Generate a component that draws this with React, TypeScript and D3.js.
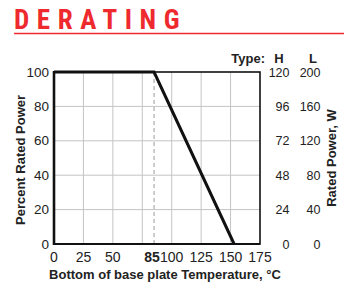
import React, { useEffect, useRef } from "react";
import * as d3 from "d3";

// Derating curve: percent rated power vs base plate temperature
const TEMPS = [0, 85, 153];
const PERCENT = [100, 100, 0];

const X_TICKS = [0, 25, 50, 85, 100, 125, 150, 175];
const X_GRID = [25, 50, 75, 100, 125, 150];
const Y_TICKS = [0, 20, 40, 60, 80, 100];
const WATTS_H = [0, 24, 48, 72, 96, 120];
const WATTS_L = [0, 40, 80, 120, 160, 200];

const FONT = "'Liberation Sans', Arial, sans-serif";

const App = () => {
    const svgRef = useRef<SVGSVGElement>(null);

    useEffect(() => {
        if (!svgRef.current) return;
        const svg = d3.select(svgRef.current);
        svg.selectAll("*").remove();

        const x = d3.scaleLinear().domain([0, 175]).range([54, 260]);
        const y = d3.scaleLinear().domain([0, 100]).range([244, 72]);

        // ── Title ─────────────────────────────────────────────
        svg.append("text")
            .attr("x", 14).attr("y", 29)
            .attr("font-family", "'Liberation Sans Narrow', 'Roboto Condensed', sans-serif")
            .attr("font-weight", "bold")
            .attr("font-size", "27px")
            .attr("letter-spacing", "7.6px")
            .attr("fill", "#ee2a2f")
            .text("DERATING");
        svg.append("line")
            .attr("x1", 14).attr("x2", 344)
            .attr("y1", 33.5).attr("y2", 33.5)
            .attr("stroke", "#ee2a2f").attr("stroke-width", 1.5);

        // ── Grid ──────────────────────────────────────────────
        const g = svg.append("g");
        X_GRID.forEach(v => {
            g.append("line")
                .attr("x1", x(v)).attr("x2", x(v))
                .attr("y1", y(0)).attr("y2", y(100))
                .attr("stroke", "#c4c4c4").attr("stroke-width", 1);
        });
        Y_TICKS.slice(1, -1).forEach(v => {
            g.append("line")
                .attr("x1", x(0)).attr("x2", x(175))
                .attr("y1", y(v)).attr("y2", y(v))
                .attr("stroke", "#c4c4c4").attr("stroke-width", 1);
        });

        // dashed marker at the knee
        g.append("line")
            .attr("x1", x(TEMPS[1])).attr("x2", x(TEMPS[1]))
            .attr("y1", y(0)).attr("y2", y(100))
            .attr("stroke", "#999").attr("stroke-width", 1)
            .attr("stroke-dasharray", "4,3");

        // frame
        g.append("rect")
            .attr("x", x(0)).attr("y", y(100))
            .attr("width", x(175) - x(0)).attr("height", y(0) - y(100))
            .attr("fill", "none").attr("stroke", "#111").attr("stroke-width", 1.6);
        g.append("line")
            .attr("x1", x(0)).attr("x2", x(0))
            .attr("y1", y(0) + 1).attr("y2", y(100) - 1)
            .attr("stroke", "#111").attr("stroke-width", 2.6);
        g.append("line")
            .attr("x1", x(0)).attr("x2", x(175))
            .attr("y1", y(0)).attr("y2", y(0))
            .attr("stroke", "#111").attr("stroke-width", 2.2);

        // ── Curve ─────────────────────────────────────────────
        const line = d3.line<number>()
            .x((d, i) => x(TEMPS[i]))
            .y(d => y(d));
        g.append("path")
            .datum(PERCENT)
            .attr("d", line)
            .attr("fill", "none")
            .attr("stroke", "#111")
            .attr("stroke-width", 3)
            .attr("stroke-linejoin", "miter");

        // ── Axis labels ───────────────────────────────────────
        const txt = (sel: any, size = 13) => sel
            .attr("font-family", FONT).attr("font-size", `${size}px`).attr("fill", "#222");

        X_TICKS.forEach(v => {
            g.append("text").call(txt, 14)
                .attr("x", x(v) - (v === 85 ? 2 : 0)).attr("y", 262)
                .attr("text-anchor", "middle")
                .attr("font-weight", v === 85 ? "bold" : "normal")
                .text(v);
        });
        Y_TICKS.forEach(v => {
            g.append("text").call(txt, 13.5)
                .attr("x", 49).attr("y", y(v) + 4.5)
                .attr("text-anchor", "end")
                .text(v);
        });
        Y_TICKS.forEach((v, i) => {
            const yy = y(v) + 4.5;
            g.append("text").call(txt, 12.5)
                .attr("x", 289.5).attr("y", yy)
                .attr("text-anchor", "end")
                .text(WATTS_H[i]);
            g.append("text").call(txt, 12.5)
                .attr("x", 320.5).attr("y", yy)
                .attr("text-anchor", "end")
                .text(WATTS_L[i]);
        });

        // header of the right axis
        g.append("text").call(txt)
            .attr("x", 265).attr("y", 62.5)
            .attr("text-anchor", "end").attr("font-weight", "bold")
            .text("Type:");
        g.append("text").call(txt)
            .attr("x", 279).attr("y", 62.5)
            .attr("text-anchor", "middle").attr("font-weight", "bold")
            .text("H");
        g.append("text").call(txt)
            .attr("x", 313).attr("y", 62.5)
            .attr("text-anchor", "middle").attr("font-weight", "bold")
            .text("L");

        // axis titles
        g.append("text").call(txt)
            .attr("transform", "translate(25,160) rotate(-90)")
            .attr("text-anchor", "middle").attr("font-weight", "bold")
            .text("Percent Rated Power");
        g.append("text").call(txt)
            .attr("transform", "translate(336,158) rotate(-90)")
            .attr("text-anchor", "middle").attr("font-weight", "bold")
            .text("Rated Power, W");
        g.append("text").call(txt)
            .attr("x", 165).attr("y", 279)
            .attr("text-anchor", "middle").attr("font-weight", "bold")
            .text("Bottom of base plate Temperature, °C");
    }, []);

    return (
        <svg
            ref={svgRef}
            width={344}
            height={282}
            style={{ position: "absolute", left: 0, top: 0, background: "#fff" }}
        />
    );
};

export default App;
